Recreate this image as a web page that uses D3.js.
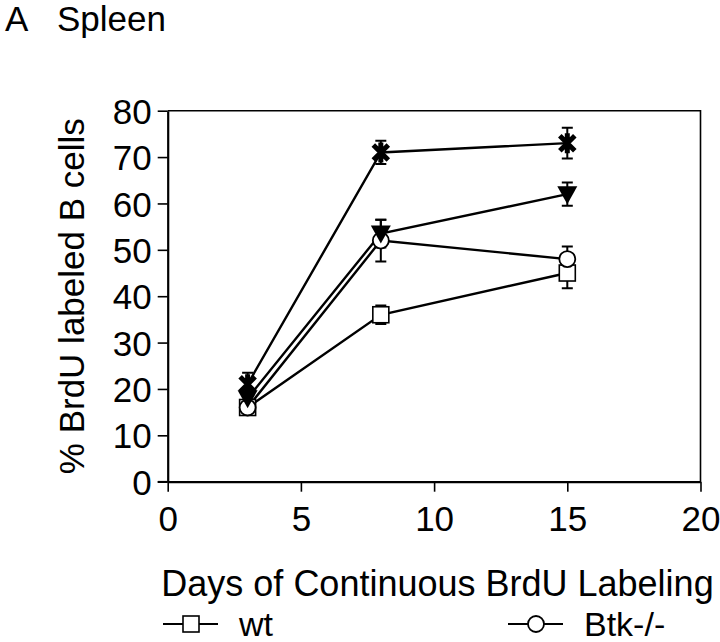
<!DOCTYPE html>
<html>
<head>
<meta charset="utf-8">
<script src="https://cdn.jsdelivr.net/npm/d3@7"></script>
<style>
	html, body { margin: 0; padding: 0; background: #fff; }
	svg { display: block; font-family: 'Liberation Sans', Arial, sans-serif; }
</style>
</head>
<body>
<svg id="chart" width="720" height="642"></svg>
<script>
'use strict';

// values
var days = [3, 8, 15];
var wtValues = [16, 36, 45];
var wtErrors = [1, 2, 3.3];
var btkValues = [16, 52, 48];
var btkErrors = [1, 4.5, 2.7];
var triangleValues = [18, 53.5, 62];
var triangleErrors = [1.5, 3, 2.5];
var starValues = [21, 71, 73];
var starErrors = [2.5, 2.5, 3.3];
var xTicks = [0, 5, 10, 15, 20];
var yTicks = [0, 10, 20, 30, 40, 50, 60, 70, 80];
var legendNames = ['wt', 'Btk-/-'];

var series = [
	{ name: 'wt', values: wtValues, errors: wtErrors, marker: 'square' },
	{ name: 'Btk-/-', values: btkValues, errors: btkErrors, marker: 'circle' },
	{ name: 'triangle', values: triangleValues, errors: triangleErrors, marker: 'triangle' },
	{ name: 'star', values: starValues, errors: starErrors, marker: 'star' }
];

var svg = d3.select('#chart');
var x = d3.scaleLinear().domain([0, 20]).range([167.7, 700.5]);
var y = d3.scaleLinear().domain([0, 80]).range([481.7, 110.7]);

// frame (top + right)
svg.append('path')
	.attr('d', 'M' + x(0) + ',' + y(80) + 'H' + x(20) + 'V' + y(0))
	.attr('fill', 'none')
	.attr('stroke', '#000')
	.attr('stroke-width', 1.6);

var yAxis = svg.append('g')
	.attr('transform', 'translate(' + x(0) + ',0)')
	.call(d3.axisLeft(y).tickValues(yTicks).tickSize(10).tickSizeOuter(0).tickPadding(6));
var xAxis = svg.append('g')
	.attr('transform', 'translate(0,' + y(0) + ')')
	.call(d3.axisBottom(x).tickValues(xTicks).tickSize(10).tickSizeOuter(0).tickPadding(14));

[xAxis, yAxis].forEach(function(ax) {
	ax.select('.domain').attr('stroke-width', 2.2);
	ax.selectAll('.tick line').attr('stroke-width', 1.6);
	ax.selectAll('.tick text')
		.attr('font-size', 35)
		.attr('fill', '#000')
		.attr('font-family', "'Liberation Sans', Arial, sans-serif");
});
// let the bottom axis poke out a little left of the y axis
xAxis.append('line')
	.attr('x1', x(0) - 10).attr('x2', x(0))
	.attr('stroke', '#000').attr('stroke-width', 1.6);
yAxis.selectAll('.tick text').attr('dy', '0.36em');

// titles
svg.append('text').attr('x', 5).attr('y', 31).attr('font-size', 35).text('A');
svg.append('text').attr('x', 57).attr('y', 31).attr('font-size', 35).text('Spleen');
svg.append('text')
	.attr('transform', 'translate(84,' + y(40) + ') rotate(-90)')
	.attr('text-anchor', 'middle')
	.attr('font-size', 35)
	.text('% BrdU labeled B cells');
svg.append('text')
	.attr('x', (163 + 712) / 2)
	.attr('y', 596)
	.attr('text-anchor', 'middle')
	.attr('font-size', 36)
	.text('Days of Continuous BrdU Labeling');

// markers
function drawMarker(g, kind) {
	if (kind === 'square') {
		g.append('rect')
			.attr('x', -8).attr('y', -8).attr('width', 16).attr('height', 16)
			.attr('fill', '#fff').attr('stroke', '#000').attr('stroke-width', 1.6);
	} else if (kind === 'circle') {
		g.append('circle')
			.attr('r', 8)
			.attr('fill', '#fff').attr('stroke', '#000').attr('stroke-width', 1.8);
	} else if (kind === 'triangle') {
		g.append('path')
			.attr('d', 'M-10,-8L10,-8L0,10Z')
			.attr('fill', '#000');
	} else {
		g.append('path')
			.attr('d', 'M-7.5,-7.5L7.5,7.5M-7.5,7.5L7.5,-7.5M0,-10V10')
			.attr('stroke', '#000').attr('stroke-width', 5).attr('fill', 'none');
	}
}

var line = d3.line()
	.x(function(d) { return x(d.day); })
	.y(function(d) { return y(d.value); });

series.forEach(function(s) {
	s.points = days.map(function(dd, i) {
		return { day: dd, value: s.values[i], err: s.errors[i] };
	});
});

svg.selectAll('path.series')
	.data(series)
	.enter()
	.append('path')
		.classed('series', true)
		.attr('d', function(s) { return line(s.points); })
		.attr('fill', 'none')
		.attr('stroke', '#000')
		.attr('stroke-width', 2.4);

series.forEach(function(s) {
	var g = svg.append('g');
	s.points.forEach(function(p) {
		var cx = x(p.day);
		var top = y(p.value + p.err), bot = y(p.value - p.err);
		g.append('path')
			.attr('d', 'M' + cx + ',' + top + 'V' + bot +
				'M' + (cx - 5.5) + ',' + top + 'H' + (cx + 5.5) +
				'M' + (cx - 5.5) + ',' + bot + 'H' + (cx + 5.5))
			.attr('stroke', '#000').attr('stroke-width', 2).attr('fill', 'none');
	});
});

series.forEach(function(s) {
	s.points.forEach(function(p) {
		var m = svg.append('g')
			.attr('transform', 'translate(' + x(p.day) + ',' + y(p.value) + ')');
		drawMarker(m, s.marker);
	});
});

// legend along the bottom edge
var legendX = [163, 508];
legendNames.forEach(function(name, i) {
	var s = series.filter(function(d) { return d.name === name; })[0];
	var lg = svg.append('g').attr('transform', 'translate(' + legendX[i] + ',624)');
	lg.append('line').attr('x1', 0).attr('x2', 55)
		.attr('stroke', '#000').attr('stroke-width', 1.8);
	var mk = lg.append('g').attr('transform', 'translate(28,0)');
	drawMarker(mk, s.marker);
	lg.append('text').attr('x', 76).attr('y', 12).attr('font-size', 34).text(name);
});
</script>
</body>
</html>
